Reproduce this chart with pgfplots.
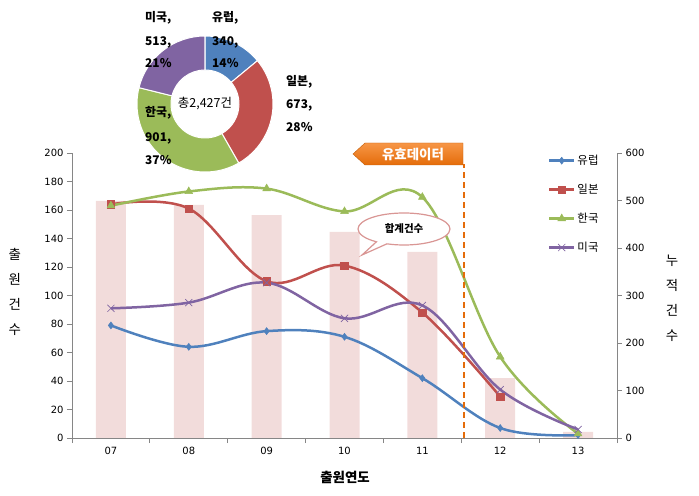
\documentclass[border=0pt]{standalone}
\usepackage{fontspec}
\setmainfont{DejaVu Sans}
\newfontfamily\kr{Noto Sans CJK KR}
\usepackage{pgfplots}
\usepackage{pgfplotstable}
\pgfplotsset{compat=1.18}
\usetikzlibrary{shapes.callouts}

\definecolor{eu}{HTML}{4F81BD}
\definecolor{jp}{HTML}{C0504D}
\definecolor{ko}{HTML}{9BBB59}
\definecolor{us}{HTML}{8064A2}
\definecolor{barc}{HTML}{F2DCDB}
\definecolor{axc}{HTML}{868686}
\definecolor{orng}{HTML}{E46C0A}
\definecolor{orngl}{HTML}{F79646}
\definecolor{bubc}{HTML}{D99694}

% year index, per-country counts, yearly total
\pgfplotstableread{
x eu jp ko us tot
0 79 164 163 91 499
1 64 161 173 95 491
2 75 110 175 109 469
3 71 121 159 84 434
4 42 88 169 93 392
5 7 29 57 34 126
6 2 nan 3 6 13
}\data

% pie totals
\def\neu{340}\def\njp{673}\def\nko{901}\def\nus{513}

\begin{document}
\begin{tikzpicture}
\pgfplotsset{
  base/.style={
    at={(72bp,58bp)}, anchor=south west,
    scale only axis, width=545bp, height=285bp,
    xmin=-0.5, xmax=6.5, ymin=0, clip=false,
    axis line style={axc, line width=0.8bp},
    tick style={axc, line width=0.8bp},
    major tick length=5bp, tick align=outside,
    tick label style={font=\fontsize{10}{12}\selectfont, black},
    /pgf/number format/assume math mode=true,
  }
}

% cumulative totals, right axis
\begin{axis}[base, ymax=600, ytick={0,100,...,600},
    axis y line*=right, axis x line=none]
  \addplot[ybar, bar width=30bp, fill=barc, draw=none] table[x=x, y=tot]{\data};
\end{axis}

% per-country lines, left axis
\begin{axis}[base, ymax=200, ytick={0,20,...,200},
    axis y line*=left, axis x line*=bottom,
    xtick={-0.5,0.5,...,6.5}, xticklabels={,,,,,,,,},
    extra x ticks={0,...,6},
    extra x tick labels={07,08,09,10,11,12,13},
    extra x tick style={major tick length=0pt, xticklabel style={yshift=-6bp}},
    legend style={at={(0.873,1.0)}, anchor=north west, draw=none, fill=none,
      font=\kr\fontsize{11.5}{13}\selectfont, row sep=14bp, inner sep=0pt},
    legend cell align=left,
    legend image code/.code={%
      \draw[mark repeat=2, mark phase=2, #1] plot coordinates {(0bp,0bp) (12.5bp,0bp) (25bp,0bp)};},
  ]
  \addplot[eu, line width=2.5bp, smooth, tension=0.6, mark=diamond*, mark size=3.5bp,
    mark options={fill=eu, draw=eu, line width=0.5bp}] table[x=x, y=eu]{\data};
  \addlegendentry{유럽}
  \addplot[jp, line width=2.5bp, smooth, tension=0.6, mark=square*, mark size=3.8bp,
    mark options={fill=jp, draw=jp, line width=0.5bp}] table[x=x, y=jp]{\data};
  \addlegendentry{일본}
  \addplot[ko, line width=2.5bp, smooth, tension=0.6, mark=triangle*, mark size=4.5bp,
    mark options={fill=ko, draw=ko, line width=0.5bp}] table[x=x, y=ko]{\data};
  \addlegendentry{한국}
  \addplot[us, line width=2.5bp, smooth, tension=0.6, mark=x, mark size=5bp,
    mark options={draw=us, line width=0.7bp}] table[x=x, y=us]{\data};
  \addlegendentry{미국}

  \draw[draw=orng, line width=2bp, dash pattern=on 6bp off 4bp]
    (axis cs:4.53,0) -- (axis cs:4.53,192);

  \node[font=\kr\fontsize{13.5}{25}\selectfont, align=center] at (rel axis cs:-0.105,0.512) {출\\원\\건\\수};
  \node[font=\kr\fontsize{13.5}{25}\selectfont, align=center] at (rel axis cs:1.101,0.49) {누\\적\\건\\수};
  \node[font=\kr\bfseries\fontsize{13.5}{15}\selectfont] at (rel axis cs:0.501,-0.14) {출원연도};
\end{axis}

% donut of totals
\pgfmathsetmacro\tot{\neu+\njp+\nko+\nus}
\pgfmathsetmacro\aA{90}
\pgfmathsetmacro\aB{\aA-360*(\neu/\tot)}
\pgfmathsetmacro\aC{\aB-360*(\njp/\tot)}
\pgfmathsetmacro\aD{\aC-360*(\nko/\tot)}
\pgfmathsetmacro\aE{\aD-360*(\nus/\tot)}
\begin{scope}[shift={(205bp,392bp)}]
  \def\R{68bp}\def\r{34bp}
  \foreach \s/\e/\c in {\aA/\aB/eu, \aB/\aC/jp, \aC/\aD/ko, \aD/\aE/us}{
    \filldraw[fill=\c, draw=white, line width=1bp]
      (\s:\R) arc[start angle=\s, end angle=\e, radius=\R]
      -- (\e:\r) arc[start angle=\e, end angle=\s, radius=\r] -- cycle;
  }
  \node[font=\kr\fontsize{12.5}{14}\selectfont] at (0,0) {총2,427건};
\end{scope}

\tikzset{plab/.style={font=\kr\bfseries\fontsize{12}{13}\selectfont, anchor=west, inner sep=0pt}}
\node[plab] at (145bp,478bp) {미국,};
\node[plab] at (145bp,454bp) {513,};
\node[plab] at (145bp,433bp) {21\%};
\node[plab] at (212bp,478bp) {유럽,};
\node[plab] at (212bp,454bp) {340,};
\node[plab] at (212bp,433bp) {14\%};
\node[plab] at (286bp,414bp) {일본,};
\node[plab] at (286bp,391bp) {673,};
\node[plab] at (286bp,369bp) {28\%};
\node[plab] at (145bp,383bp) {한국,};
\node[plab] at (145bp,358bp) {901,};
\node[plab] at (145bp,336bp) {37\%};

% valid-data tag
\shade[top color=orngl, bottom color=orng, draw=orng!85!black, line width=0.4bp]
  (353bp,342bp) -- (365bp,353bp) -- (463bp,353bp) -- (463bp,331bp) -- (365bp,331bp) -- cycle;
\node[font=\kr\bfseries\fontsize{13.5}{15}\selectfont, white] at (413bp,342bp) {유효데이터};

% total callout
\node[ellipse callout, draw=bubc, line width=1.2bp, fill=white,
  minimum width=92bp, minimum height=32bp, inner sep=0pt,
  callout absolute pointer={(362bp,241bp)},
  font=\kr\bfseries\fontsize{10.5}{12}\selectfont] at (404bp,267bp) {합계건수};

\pgfresetboundingbox
\path[use as bounding box] (0,0) rectangle (699bp,496bp);
\end{tikzpicture}
\end{document}
